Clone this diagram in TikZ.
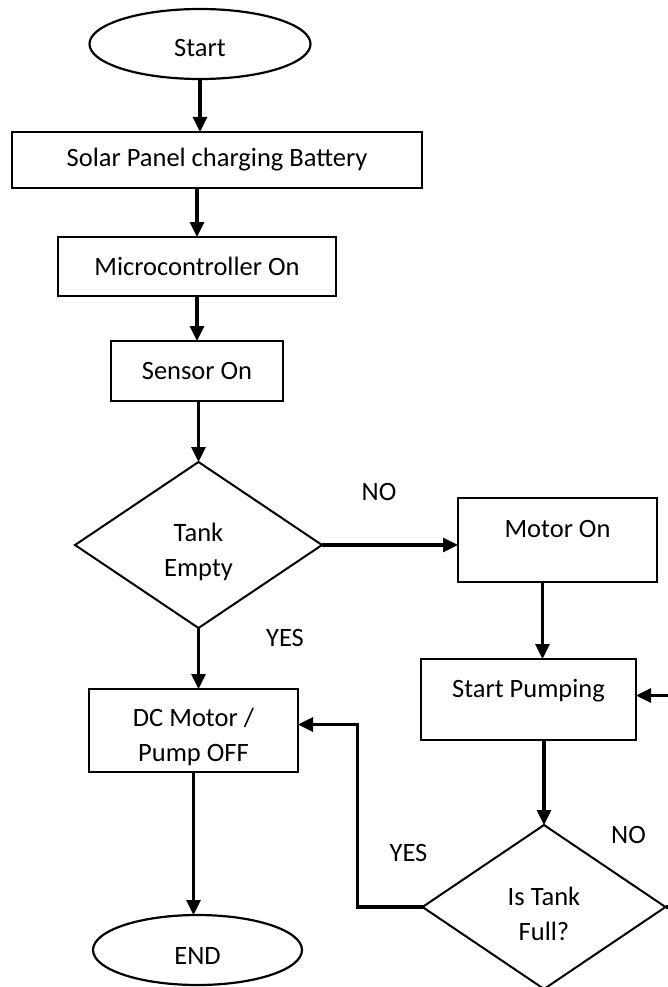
\documentclass[tikz,border=0pt]{standalone}
\usepackage{fontspec}
\setmainfont{Carlito}
\usetikzlibrary{
    arrows.meta,
    shapes.geometric,
    positioning
}
\tikzstyle{process} = [
    rectangle,
    draw=black,
    line width=2.2pt,
    fill=white,
    align=center,
    inner sep=2pt,
    outer sep=0pt
]
\tikzstyle{decision} = [
    diamond,
    draw=black,
    line width=2pt,
    align=center,
    inner sep=0pt,
    outer sep=0pt
]
\tikzstyle{terminal} = [
    ellipse,
    draw=black,
    line width=2.2pt,
    inner sep=0pt,
    outer sep=0pt
]
\tikzstyle{arrow} = [
    -{Triangle[length=15pt,width=14pt]},
    line width=3.2pt,
    draw=black
]
\tikzstyle{answer} = [
    inner sep=0pt
]
\newcommand{\lowtext}[1]{\rule{0pt}{#1}}

\begin{document}
\begin{tikzpicture}[x=1pt, y=1pt, font=\fontsize{26.5}{35}\selectfont]
        \useasboundingbox (0,0) rectangle (668,-987);
        \clip (0,0) rectangle (668,-987);

        % Main column
        \node[terminal, minimum width=221pt, minimum height=70pt] (start) at (200,-44) {\lowtext{25pt}Start};
        \node[process, minimum width=410pt, minimum height=56pt, below=53pt of start, xshift=17pt] (solar) {Solar Panel charging Battery};
        \node[process, minimum width=278pt, minimum height=59pt, below=49pt of solar, xshift=-20pt] (micro) {Microcontroller On};
        \node[process, minimum width=172pt, minimum height=60pt, below=45pt of micro] (sensor) {Sensor On};
        \node[decision, minimum width=247pt, minimum height=166pt, below=61pt of sensor, xshift=1.5pt] (empty) {\lowtext{32pt}Tank\\Empty};

        % Pumping branch
        \node[process, minimum width=199pt, minimum height=84pt, text depth=22pt, right=136pt of empty, yshift=5pt] (motor) {Motor On};
        \node[process, minimum width=215pt, minimum height=81pt, text depth=22pt, below=77pt of motor, xshift=-29pt] (pump) {Start Pumping};
        \node[decision, minimum width=243pt, minimum height=164pt, below=85pt of pump, xshift=15.5pt] (full) {\lowtext{32pt}Is Tank\\Full?};

        % Stop branch
        \node[process, minimum width=209pt, minimum height=83pt, below=61pt of empty, xshift=-5pt] (dcoff) {\lowtext{32pt}DC Motor /\\Pump OFF};
        \node[terminal, minimum width=209pt, minimum height=70pt, below=143pt of dcoff, xshift=4pt] (finish) {\lowtext{28pt}END};

        % Arrows
        \draw[arrow] (start.south) -- (start.south |- solar.north);
        \draw[arrow] (micro.north |- solar.south) -- (micro.north);
        \draw[arrow] (micro.south) -- (sensor.north);
        \draw[arrow] (empty.north |- sensor.south) -- (empty.north);
        \draw[arrow] (empty.east) -- (empty.east -| motor.west);
        \draw[arrow] ([xshift=-15pt]motor.south) -- ([xshift=-15pt]motor.south |- pump.north);
        \draw[arrow] (full.north |- pump.south) -- (full.north);
        \draw[arrow] (full.east) -- ++(25,0) |- ([yshift=4pt]pump.east);
        \draw[arrow] (full.west) -- ++(-65,0) |- ([yshift=6pt]dcoff.east);
        \draw[arrow] (empty.south) -- (empty.south |- dcoff.north);
        \draw[arrow] (dcoff.south) -- (dcoff.south |- finish.north);

        % Labels
        \node[answer] (no1) at ([xshift=57pt, yshift=53pt]empty.east) {NO};
        \node[answer] (yes1) at ([xshift=86.5pt, yshift=-10pt]empty.south) {YES};
        \node[answer] (no2) at ([xshift=-37pt, yshift=72pt]full.east) {NO};
        \node[answer] (yes2) at ([xshift=-14pt, yshift=54pt]full.west) {YES};
    \end{tikzpicture}
\end{document}
